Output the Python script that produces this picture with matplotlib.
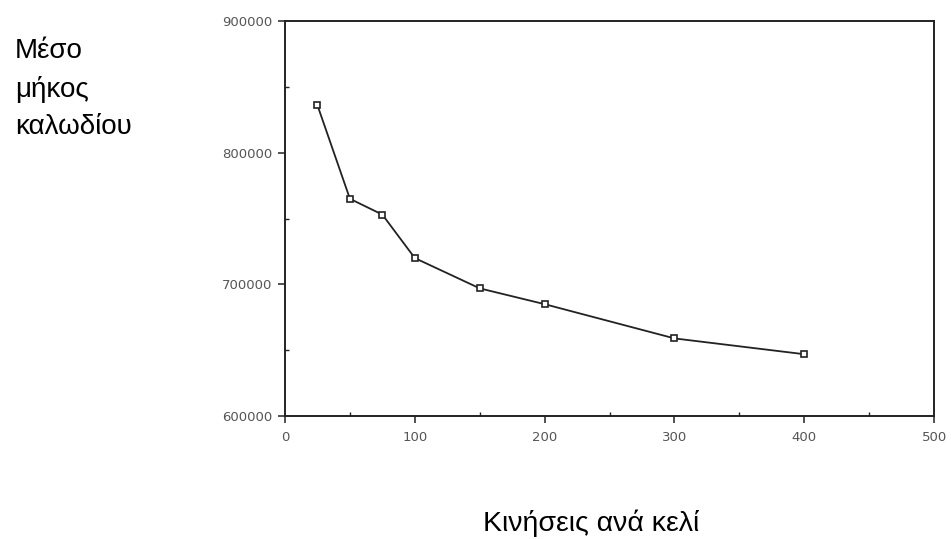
import numpy as np
import matplotlib.pyplot as plt
from matplotlib.ticker import MultipleLocator

# data
kiniseis = [25, 50, 75, 100, 150, 200, 300, 400]
mhkos = [836000, 765000, 753000, 720000, 697000, 685000, 659000, 647000]

fig = plt.figure(figsize=(9.51, 5.39), dpi=100)
ax = fig.add_axes([0.2997, 0.228, 0.6825, 0.733])

ax.plot(kiniseis, mhkos, color='#222222', lw=1.3, marker='s', ms=5,
        mfc='white', mec='#222222', mew=1.2)

ax.set_xlim(0, 500)
ax.set_ylim(600000, 900000)
ax.xaxis.set_major_locator(MultipleLocator(100))
ax.xaxis.set_minor_locator(MultipleLocator(50))
ax.yaxis.set_major_locator(MultipleLocator(100000))
ax.yaxis.set_minor_locator(MultipleLocator(50000))

for s in ax.spines.values():
    s.set_linewidth(1.4)
    s.set_color('#222222')

ax.tick_params(which='major', direction='out', length=5, width=1.1,
               labelsize=9.5, labelcolor='#555555', color='#222222', pad=4)
ax.tick_params(which='minor', direction='in', length=3, width=1.0, color='#222222')
ax.tick_params(axis='x', which='major', pad=6)

fig.text(15/951, 1 - 38/539, 'Μέσο\nμήκος\nκαλωδίου', family='Liberation Sans',
         fontsize=20, va='top', ha='left', linespacing=1.55)
fig.text(591/951, 1 - 531/539, 'Κινήσεις ανά κελί', family='Liberation Sans',
         fontsize=20.5, va='baseline', ha='center')

fig.savefig('out.png', dpi=100)
